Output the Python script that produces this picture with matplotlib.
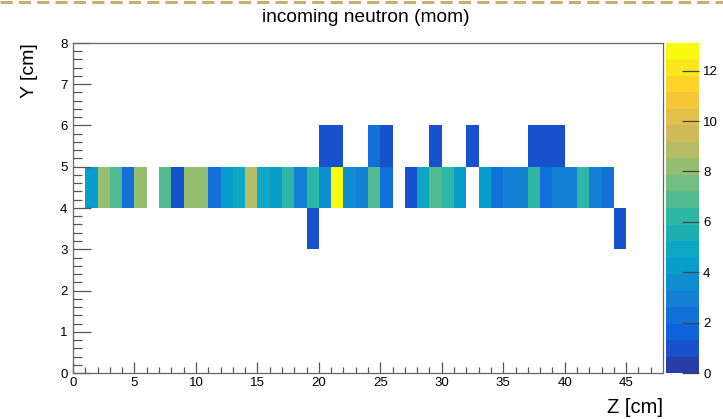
import numpy as np
import matplotlib
matplotlib.use("Agg")
import matplotlib.pyplot as plt
from matplotlib.colors import LinearSegmentedColormap, ListedColormap, BoundaryNorm
from matplotlib.lines import Line2D

plt.rcParams['font.family'] = ['Liberation Sans', 'DejaVu Sans']

# ---- data ----
z_edges = np.arange(0, 49)      # Z bins [cm]
y_edges = np.arange(0, 9)       # Y bins [cm]
# row Y in [4,5): Z bin -> value
row_y4_bins = [1, 2, 3, 4, 5, 7, 8, 9, 10, 11, 12, 13, 14, 15, 16, 17, 18, 19, 20,
               21, 22, 23, 24, 25, 27, 28, 29, 30, 31, 33, 34, 35, 36, 37, 38, 39,
               40, 41, 42, 43]
row_y4_vals = [4.5, 8.2, 6.9, 2.3, 8.2, 6.9, 1.0, 8.2, 8.2, 2.3, 4.2, 4.8, 8.8, 4.8,
               4.2, 6.2, 2.8, 6.2, 3.8, 13.0, 3.8, 2.8, 6.9, 2.5, 1.0, 4.8, 6.9, 6.5,
               4.2, 4.2, 2.3, 2.8, 2.8, 6.2, 2.3, 2.8, 2.8, 6.2, 2.8, 2.2]
# row Y in [5,6)
row_y5_bins = [20, 21, 24, 25, 29, 32, 37, 38, 39]
row_y5_vals = [1.0, 1.0, 2.3, 1.0, 1.0, 1.0, 1.0, 1.0, 1.0]
# row Y in [3,4)
row_y3_bins = [19, 44]
row_y3_vals = [1.0, 1.0]

z_min, z_max = 0.0, 13.1
n_levels = 20
cbar_ticks = [0, 2, 4, 6, 8, 10, 12]

# ---- histogram grid ----
H = np.zeros((len(y_edges) - 1, len(z_edges) - 1))
for yb, bins, vals in [(4, row_y4_bins, row_y4_vals),
                       (5, row_y5_bins, row_y5_vals),
                       (3, row_y3_bins, row_y3_vals)]:
    for b, v in zip(bins, vals):
        H[yb, b] = v
Hm = np.ma.masked_where(H <= 0, H)

# ---- ROOT kBird palette, discretised like ROOT COLZ ----
stops = [0.0, 0.125, 0.25, 0.375, 0.5, 0.625, 0.75, 0.875, 1.0]
red = [0.2082, 0.0592, 0.0780, 0.0232, 0.1802, 0.5301, 0.8186, 0.9956, 0.9764]
green = [0.1664, 0.3599, 0.5041, 0.6419, 0.7178, 0.7492, 0.7328, 0.7862, 0.9832]
blue = [0.5293, 0.8684, 0.8385, 0.7914, 0.6425, 0.4662, 0.3499, 0.1968, 0.0539]
bird = LinearSegmentedColormap.from_list(
    "bird", list(zip(stops, zip(red, green, blue))), N=255)
band_cols = [bird(int((i + 0.99) * 255 / n_levels) / 254.0) for i in range(n_levels)]
cmap = ListedColormap(band_cols)
levels = np.linspace(z_min, z_max, n_levels + 1)
norm = BoundaryNorm(levels, cmap.N)

# ---- figure ----
W, Hpx = 723, 419
fig = plt.figure(figsize=(W / 100, Hpx / 100), dpi=100)
fl, fr, ft, fb = 73, 663, 43, 373
ax = fig.add_axes([fl / W, 1 - fb / Hpx, (fr - fl) / W, (fb - ft) / Hpx])
mesh = ax.pcolormesh(z_edges, y_edges, Hm, cmap=cmap, norm=norm)
ax.set_xlim(0, 48)
ax.set_ylim(0, 8)

edge = '#555555'
for s in ax.spines.values():
    s.set_color('#666666')
    s.set_linewidth(0.9)
ax.set_xticks(np.arange(0, 46, 5))
ax.set_xticks(np.arange(0, 48, 1), minor=True)
ax.set_yticks(np.arange(0, 9, 1))
ax.set_yticks(np.arange(0, 8.01, 0.2), minor=True)
ax.tick_params(axis='x', which='major', direction='in', length=8, width=0.9,
               color=edge, labelsize=9.5, pad=3)
ax.tick_params(axis='x', which='minor', direction='in', length=4, width=0.9, color=edge)
ax.tick_params(axis='y', which='major', direction='in', length=13, width=0.9,
               color=edge, labelsize=9.5, pad=4)
ax.tick_params(axis='y', which='minor', direction='in', length=6.5, width=0.9, color=edge)

ax.text(1.0, -0.075, "Z [cm]", transform=ax.transAxes, ha='right', va='top',
        fontsize=14.5)
ax.text(-0.073, 1.0, "Y [cm]", transform=ax.transAxes, ha='center', va='top',
        rotation=90, fontsize=14)

# colour bar
cax = fig.add_axes([666 / W, 1 - fb / Hpx, 33 / W, (fb - ft) / Hpx])
cb = fig.colorbar(mesh, cax=cax, ticks=cbar_ticks)
cb.outline.set_visible(False)
cax.tick_params(axis='y', direction='in', length=12, width=0.9, color='#444444',
                labelsize=9.5, pad=3)
cax.minorticks_off()

fig.text(366 / W, 1 - 17 / Hpx, "incoming neutron (mom)", ha='center', va='center',
         fontsize=13.8)

# dashed top border
fig.add_artist(Line2D([0, 1], [1 - 2.5 / Hpx, 1 - 2.5 / Hpx], transform=fig.transFigure,
                      color='#c9ae72', lw=2.2, linestyle=(0, (4, 2))))

fig.savefig("out.png", dpi=100)
